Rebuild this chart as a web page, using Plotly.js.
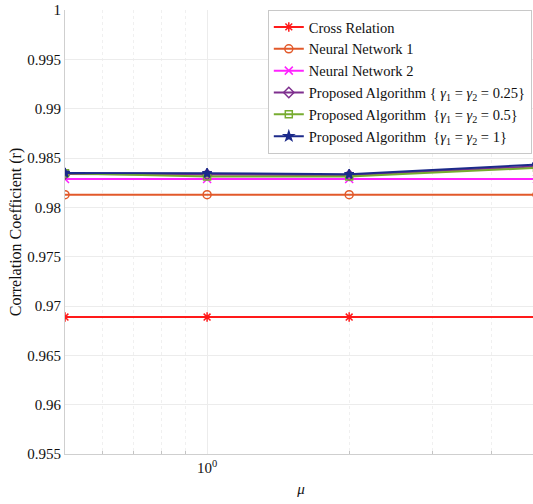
<!DOCTYPE html>
<html>
<head>
<meta charset="utf-8">
<script src="https://cdn.plot.ly/plotly-3.0.1.min.js"></script>
<style>
html, body { margin:0; padding:0; overflow:hidden; background:#fff; }
#chart { width:540px; height:504px; }
</style>
</head>
<body>
<div id="chart"></div>
<script>
// Data
const mu = [0.5, 1, 2, 5];
const crossRelation = [0.96888, 0.96888, 0.96888, 0.96888];
const neuralNetwork1 = [0.98128, 0.98128, 0.98128, 0.98128];
const neuralNetwork2 = [0.98288, 0.98288, 0.98288, 0.98288];
const proposed025 = [0.98338, 0.98332, 0.98326, 0.98416];
const proposed05 = [0.98345, 0.98312, 0.98312, 0.98400];
const proposed1 = [0.98348, 0.98346, 0.98336, 0.98433];

const seriesNames = [
  'Cross Relation',
  'Neural Network 1',
  'Neural Network 2',
  'Proposed Algorithm { <i>γ</i><sub>1</sub> = <i>γ</i><sub>2</sub> = 0.25}',
  'Proposed Algorithm  {<i>γ</i><sub>1</sub> = <i>γ</i><sub>2</sub> = 0.5}',
  'Proposed Algorithm  {<i>γ</i><sub>1</sub> = <i>γ</i><sub>2</sub> = 1}'
];
const yTicks = [0.955, 0.96, 0.965, 0.97, 0.975, 0.98, 0.985, 0.99, 0.995, 1];
const yTickText = ['0.955', '0.96', '0.965', '0.97', '0.975', '0.98', '0.985', '0.99', '0.995', '1'];
const xTicks = [1];
const xTickText = ['10<sup>0</sup>'];
const xMinorTicks = [0.6, 0.7, 0.8, 0.9, 2, 3, 4];

const FAM = 'Liberation Serif';
const TXT = '#111111';

const seriesY = [crossRelation, neuralNetwork1, neuralNetwork2, proposed025, proposed05, proposed1];
const styles = [
  {color:'#ff1a1a', symbol:'asterisk-open', size:8},
  {color:'#e2592a', symbol:'circle-open', size:8},
  {color:'#ff22ff', symbol:'x-thin-open', size:8},
  {color:'#7e2f8e', symbol:'diamond-open', size:8},
  {color:'#77ac30', symbol:'square-open', size:7},
  {color:'#1c2a8a', symbol:'star', size:7}
];

const traces = seriesY.map((y, i) => ({
  x: mu,
  y: y,
  name: seriesNames[i],
  type: 'scatter',
  mode: 'lines+markers',
  line: {color: styles[i].color, width: 2},
  marker: {symbol: styles[i].symbol, size: styles[i].size, color: styles[i].color,
           line: {color: styles[i].color, width: 1.5}},
  cliponaxis: true
}));

const layout = {
  width: 540,
  height: 504,
  margin: {l:65, r:3, t:10, b:50},
  paper_bgcolor: '#ffffff',
  plot_bgcolor: '#ffffff',
  font: {family: FAM, size: 15, color: TXT},
  showlegend: true,
  legend: {
    x: 0.989, y: 1, xanchor: 'right', yanchor: 'top',
    bgcolor: '#ffffff', bordercolor: '#c8c8c8', borderwidth: 1,
    font: {family: FAM, size: 14.5, color: TXT},
    tracegroupgap: 0,
    itemwidth: 30
  },
  xaxis: {
    type: 'log',
    range: [Math.log10(0.5), Math.log10(5)],
    tickmode: 'array',
    tickvals: xTicks,
    ticktext: xTickText,
    showline: true, linecolor: '#cfcfcf', linewidth: 1,
    showgrid: true, gridcolor: '#ececec', gridwidth: 1,
    ticks: '', zeroline: false,
    minor: {tickmode: 'array', tickvals: xMinorTicks, showgrid: true, gridcolor: '#f0f0f0', griddash: 'dot', ticks: 'inside', ticklen: 3, tickcolor: '#c4c4c4'},
    title: {text: '<i>μ</i>', font: {family: FAM, size: 15, color: TXT}, standoff: 8},
    automargin: false,
    tickfont: {family: FAM, size: 15, color: TXT}
  },
  yaxis: {
    range: [0.955, 1],
    tickmode: 'array',
    tickvals: yTicks,
    ticktext: yTickText,
    showline: true, linecolor: '#cfcfcf', linewidth: 1,
    showgrid: true, gridcolor: '#ececec', gridwidth: 1,
    ticks: '', zeroline: false,
    title: {text: 'Correlation Coefficient (r)', font: {family: FAM, size: 16, color: TXT}, standoff: 1},
    automargin: false,
    tickfont: {family: FAM, size: 15, color: TXT}
  }
};

Plotly.newPlot('chart', traces, layout, {displayModeBar: false, staticPlot: true});
</script>
</body>
</html>
